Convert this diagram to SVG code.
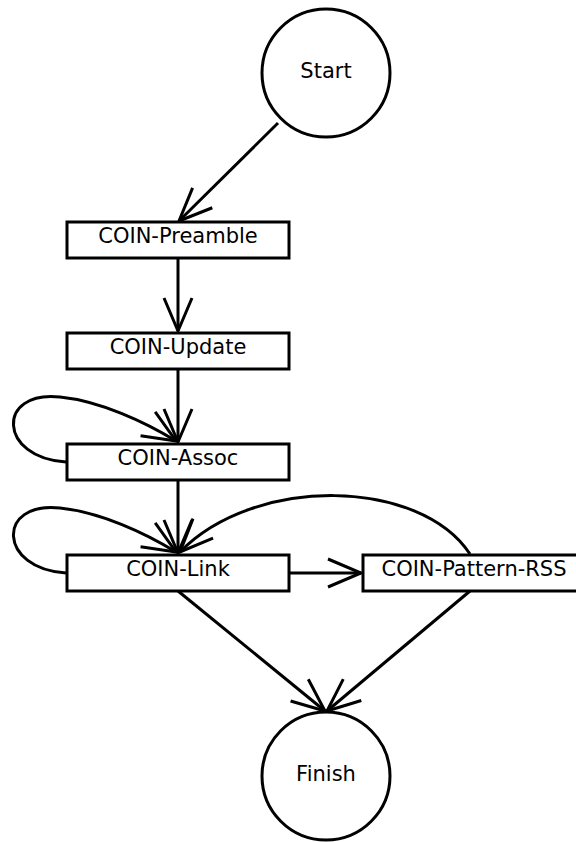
<svg xmlns="http://www.w3.org/2000/svg" width="576" height="842" viewBox="0 0 576 842">
<defs>
<marker id="arr" markerUnits="userSpaceOnUse" markerWidth="1" markerHeight="1" refX="0" refY="0" orient="auto" overflow="visible">
<path d="M -33 -14 L 0 0 L -33 14" fill="none" stroke="#000" stroke-width="3"/>
</marker>
</defs>
<style>
.n{fill:#fff;stroke:#000;stroke-width:3}
.t{font-family:"DejaVu Sans",sans-serif;font-size:21px;fill:#000;text-anchor:middle}
.e{fill:none;stroke:#000;stroke-width:3;marker-end:url(#arr)}
</style>
<rect width="576" height="842" fill="#fff"/>
<g id="edges">
<path class="e" d="M 278 123 L 179 221"/>
<path class="e" d="M 178 258 L 178 331"/>
<path class="e" d="M 178 369 L 178 442"/>
<path class="e" d="M 66 462 C -2 458 -4 390 60 397 C 100 401 145 422 176 441"/>
<path class="e" d="M 178 480 L 178 553"/>
<path class="e" d="M 66 573 C -2 569 -4 501 60 508 C 100 512 145 533 176 552"/>
<path class="e" d="M 470 554 C 420 478 255 475 180 552"/>
<path class="e" d="M 289 573 L 361 573"/>
<path class="e" d="M 178 591 L 325 711"/>
<path class="e" d="M 470 591 L 327 711"/>
</g>
<g id="start"><circle class="n" cx="326" cy="73" r="64"/><text class="t" x="326" y="78">Start</text></g>
<g id="preamble"><rect class="n" x="67" y="222" width="222" height="36"/><text class="t" x="178" y="243">COIN-Preamble</text></g>
<g id="update"><rect class="n" x="67" y="333" width="222" height="36"/><text class="t" x="178" y="354">COIN-Update</text></g>
<g id="assoc"><rect class="n" x="67" y="444" width="222" height="36"/><text class="t" x="178" y="465">COIN-Assoc</text></g>
<g id="link"><rect class="n" x="67" y="555" width="222" height="36"/><text class="t" x="178" y="576">COIN-Link</text></g>
<g id="pattern"><rect class="n" x="363" y="555" width="222" height="36"/><text class="t" x="474" y="576">COIN-Pattern-RSS</text></g>
<g id="finish"><circle class="n" cx="326" cy="776" r="64"/><text class="t" x="326" y="781">Finish</text></g>
</svg>
